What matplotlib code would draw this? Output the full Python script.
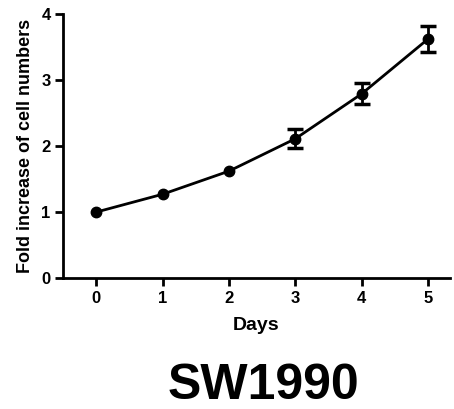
import matplotlib
matplotlib.use("Agg")
import matplotlib.pyplot as plt

plt.rcParams['font.family'] = ['Liberation Sans', 'DejaVu Sans']
plt.rcParams['font.weight'] = 'bold'

days = [0, 1, 2, 3, 4, 5]
fold = [1.00, 1.27, 1.62, 2.11, 2.79, 3.62]
err = [0.03, 0.03, 0.04, 0.14, 0.16, 0.19]

fig = plt.figure(figsize=(4.54, 4.09), dpi=100)
ax = fig.add_axes([0.139, 0.320, 0.852, 0.646])

ax.plot(days, fold, color='black', lw=2, marker='o', ms=7.5)
# error bars hidden behind the symbol are not drawn (Prism style)
big = [i for i in range(len(days)) if err[i] > 0.06]
ax.errorbar([days[i] for i in big], [fold[i] for i in big], yerr=[err[i] for i in big],
            fmt='none', ecolor='black', capsize=5.5, capthick=2.5, elinewidth=2)

ax.set_xlim(-0.5, 5.33)
ax.set_ylim(0, 4)
ax.set_xticks(days)
ax.set_yticks([0, 1, 2, 3, 4])
for s in ['top', 'right']:
    ax.spines[s].set_visible(False)
for s in ['left', 'bottom']:
    ax.spines[s].set_linewidth(2)
ax.tick_params(width=2, length=6, labelsize=12, pad=3)
ax.set_xlabel('Days', fontsize=14, fontweight='bold', labelpad=8)
ax.set_ylabel('Fold increase of cell numbers', fontsize=13, fontweight='bold', labelpad=5)

fig.text(0.581, 0.025, 'SW1990', fontsize=36, fontweight='bold', ha='center', va='baseline')

fig.savefig('out.png', dpi=100)
